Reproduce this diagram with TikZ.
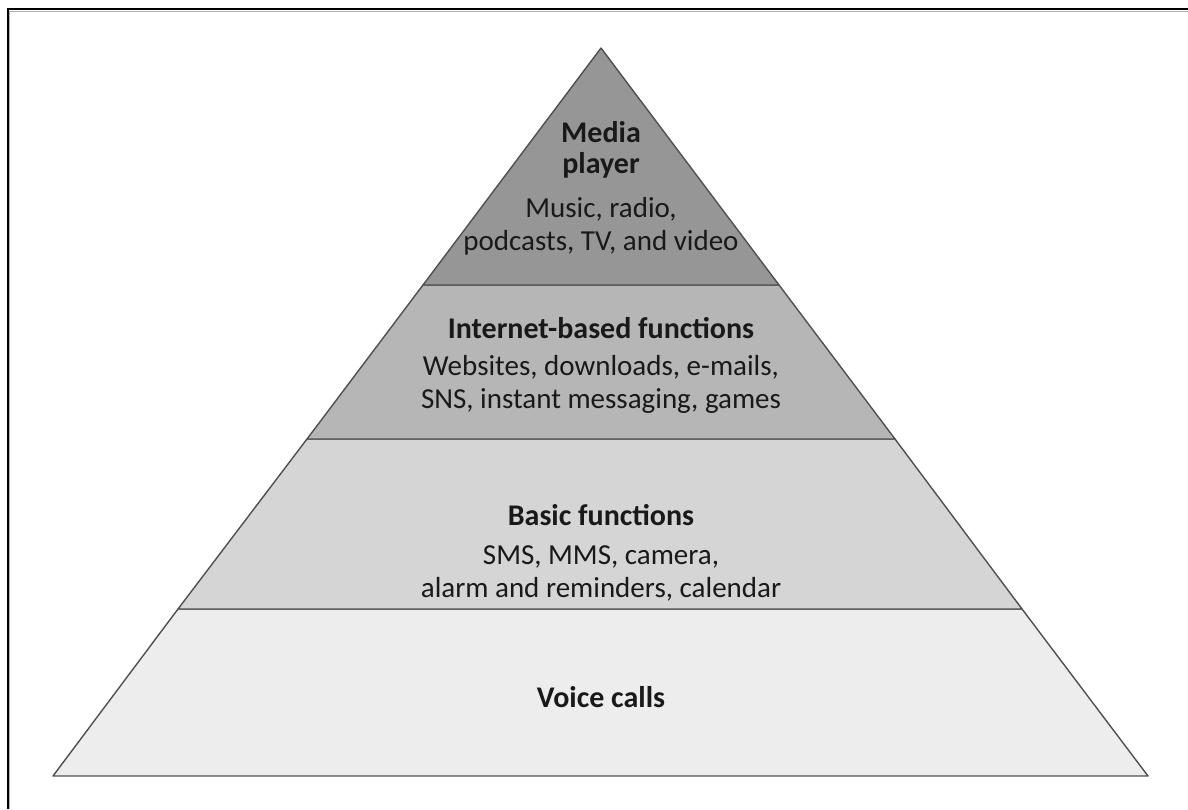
\documentclass[tikz,border=0pt]{standalone}
\usepackage{fontspec}
\setmainfont{Carlito}
\usetikzlibrary{positioning}

\definecolor{layertop}{RGB}{150,150,150}
\definecolor{layernet}{RGB}{182,182,182}
\definecolor{layerbasic}{RGB}{213,213,213}
\definecolor{layervoice}{RGB}{237,237,237}
\definecolor{edgegray}{RGB}{80,80,80}
\definecolor{inktext}{RGB}{25,25,25}

\begin{document}
\begin{tikzpicture}[
    x=1pt, y=-1pt,
    layerfill/.style={fill=#1, draw=edgegray, line width=1.4pt, line join=round},
    titletext/.style={
        font=\fontsize{30}{31}\selectfont\bfseries,
        align=center,
        text=inktext,
        inner sep=0pt
    },
    bodytext/.style={
        font=\fontsize{29}{33}\selectfont,
        align=center,
        text=inktext,
        inner sep=0pt
    }
]

\useasboundingbox (0,0) rectangle (1188,809);

% frame, top and left only
\draw[black!30, line width=1pt] (9.5,809) -- (9.5,11) -- (1188,11);
\draw[black, line width=2.2pt] (8,809) -- (8,9) -- (1188,9);

% corners of the pyramid and of its bands
\coordinate (apex) at (601,48);
\coordinate (l1) at (423,285);  \coordinate (r1) at (779,285);
\coordinate (l2) at (307,439);  \coordinate (r2) at (895,439);
\coordinate (l3) at (178,609);  \coordinate (r3) at (1022,609);
\coordinate (l4) at (53,776);   \coordinate (r4) at (1148,776);

% bands, bottom first
\draw[layerfill=layervoice] (l3) -- (r3) -- (r4) -- (l4) -- cycle;
\draw[layerfill=layerbasic] (l2) -- (r2) -- (r3) -- (l3) -- cycle;
\draw[layerfill=layernet] (l1) -- (r1) -- (r2) -- (l2) -- cycle;
\draw[layerfill=layertop] (apex) -- (r1) -- (l1) -- cycle;

% texts
\node[titletext] (mediatitle) at (601,150) {Media\\player};
\node[bodytext] (mediabody) at (601,226) {Music, radio,\\podcasts, TV, and video};

\node[titletext] (nettitle) at (601,328) {Internet-based functions};
\node[bodytext] (netbody) at (601,384) {Websites, downloads, e-mails,\\SNS, instant messaging, games};

\node[titletext] (basictitle) at (601,515) {Basic functions};
\node[bodytext] (basicbody) at (601,573) {SMS, MMS, camera,\\alarm and reminders, calendar};

\node[titletext] (voicetitle) at (601,697) {Voice calls};

\end{tikzpicture}
\end{document}
